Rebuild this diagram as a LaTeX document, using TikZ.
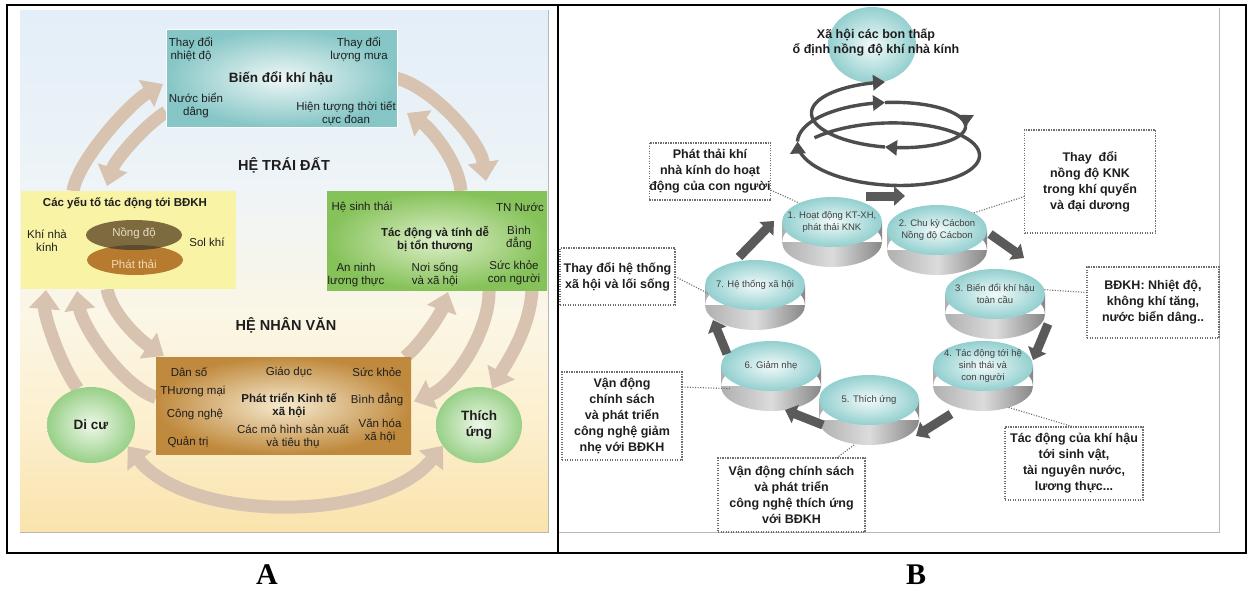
\documentclass[tikz,border=0pt]{standalone}
\usepackage{fontspec}
\setmainfont{Liberation Sans}
\newfontfamily\labelserif{Liberation Serif}
\usetikzlibrary{arrows.meta,calc,shapes.geometric}

\definecolor{bgtop}{HTML}{E3EEF8}
\definecolor{bgupper}{HTML}{EEF4F7}
\definecolor{bgmid}{HTML}{FBF6E6}
\definecolor{bglow}{HTML}{FCEFCD}
\definecolor{bgbot}{HTML}{FAE3AC}
\definecolor{flow}{HTML}{D7C3B0}
\definecolor{tealin}{HTML}{EEF7F6}
\definecolor{tealout}{HTML}{86C6C6}
\definecolor{yellowbox}{HTML}{F9F3A6}
\definecolor{greenin}{HTML}{DCEFC8}
\definecolor{greenout}{HTML}{86C25A}
\definecolor{goldin}{HTML}{F6EACF}
\definecolor{goldout}{HTML}{C08A3E}
\definecolor{leafin}{HTML}{EEF8E8}
\definecolor{leafout}{HTML}{98D088}
\definecolor{olive}{HTML}{7D6B3F}
\definecolor{amber}{HTML}{B77B2F}
\definecolor{overlap}{HTML}{5D4B2C}
\definecolor{oliveText}{HTML}{E6DCC4}
\definecolor{amberText}{HTML}{F3D9B5}
\definecolor{txt}{HTML}{1E1E1E}
\definecolor{discin}{HTML}{F2FAFA}
\definecolor{discout}{HTML}{93CFCF}
\definecolor{sidelight}{HTML}{DCDCDC}
\definecolor{sidemid}{HTML}{B0B0B0}
\definecolor{sidedark}{HTML}{878787}
\definecolor{coil}{HTML}{4D4D4D}
\definecolor{block}{HTML}{5A5A5A}
\definecolor{dots}{HTML}{6E6E6E}
\definecolor{rule}{HTML}{B8B8B8}

% sky-to-ground wash behind the first panel (bottom to top)
\pgfdeclareverticalshading{skyground}{100bp}{
  color(0bp)=(bgbot); color(25bp)=(bgbot); color(35bp)=(bglow);
  color(46bp)=(bgmid); color(58bp)=(bgupper); color(75bp)=(bgtop); color(100bp)=(bgtop)}

% a disc: grey side band plus a teal top face carrying the label
\newcommand\bdisc[4]{%
  \shade[left color=sidemid, right color=sidedark, middle color=sidelight]
    (#2-50,#3) rectangle (#2+50,#3+20) (#2,#3+20) ellipse (50 and 25);
  \node[ellipse, minimum width=100pt, minimum height=50pt,
        inner color=discin, outer color=discout] (#1) at (#2,#3) {};
  \node[disctext] (#1-t) at (#2,#3) {#4};
}

% one stretch of the rising coil, turning angle from #1 to #2 degrees, #3 samples
\newcommand\coilpart[3]{%
  \draw[coilline] plot[domain=#1:#2, samples=#3, variable=\ang]
    ({885+(98-28*((\ang-270)/720))*cos(\ang)},
     {163.5-58.5*((\ang-270)/720)+(40.5-17.5*((\ang-270)/720))*sin(\ang)});
}

\begin{document}
\begin{tikzpicture}[x=1pt, y=-1pt,
  every node/.style={text=txt, inner sep=0pt, outer sep=0pt},
  lbl/.style={font=\fontsize{11.5}{13}\selectfont, align=center},
  lblb/.style={font=\fontsize{11.5}{13}\selectfont\bfseries, align=center},
  boxtitle/.style={font=\fontsize{13.5}{15}\selectfont\bfseries, align=center},
  region/.style={font=\fontsize{14.5}{16}\selectfont\bfseries},
  flowarrow/.style={draw=flow, line width=13pt, -{Triangle[width=30pt,length=19pt]}},
  panelbox/.style={draw=white, line width=0.8pt},
  leafcircle/.style={ellipse, minimum width=88pt, minimum height=76pt,
    inner color=leafin, outer color=leafout,
    font=\fontsize{13.5}{16}\selectfont\bfseries, align=center},
  disctext/.style={font=\fontsize{9.5}{12}\selectfont, align=center, text=txt!85},
  callout/.style={draw=dots, line width=1.3pt, dash pattern=on 1.3pt off 1.2pt,
    align=center, font=\fontsize{12.5}{16}\selectfont\bfseries, fill=white},
  leader/.style={draw=dots, line width=1.1pt, dash pattern=on 1.1pt off 1.5pt},
  blockarrow/.style={draw=block, line width=9pt, -{Triangle[width=19pt,length=11pt]}},
  coilline/.style={draw=coil, line width=3.4pt, line join=round, -{Triangle[width=15pt,length=12pt]}}
]
\useasboundingbox (0,0) rectangle (1249,592);
\fill[white] (0,0) rectangle (1249,592);

% ================= panel A =================
\shade[shading=skyground] (20,10) rectangle (548,532);
\draw[rule, line width=0.8pt] (20,532) -- (548,532) -- (548,10);

% box outlines (named first so that the arrows can refer to them)
\path (281.5,78) node[minimum width=231pt, minimum height=98pt] (topbox) {};
\path (128.5,240) node[minimum width=215pt, minimum height=98pt] (ybox) {};
\path (437,240.5) node[minimum width=220pt, minimum height=99pt] (gbox) {};
\path (283.5,405.5) node[minimum width=255pt, minimum height=97pt] (bbox) {};
\path (91,425) node[ellipse, minimum width=88pt, minimum height=76pt] (dicu) {};
\path (479,425) node[ellipse, minimum width=86pt, minimum height=76pt] (thich) {};

% feedback arrows
\draw[flowarrow] (dicu.110) .. controls (60,365) and (44,315) .. ($(ybox.south west)+(25,1)$);
\draw[flowarrow] ($(ybox.north west)+(52,0)$) .. controls (78,160) and (130,103) .. ($(topbox.west)+(-3,6)$);
\draw[flowarrow] ($(topbox.south west)+(0,-15)$) .. controls (145,125) and (115,160) .. ($(ybox.north west)+(86,-5)$);
\draw[flowarrow] ($(topbox.east)+(-2,0)$) .. controls (430,85) and (480,140) .. ($(gbox.north east)+(-61,-10)$);
\draw[flowarrow] ($(gbox.north west)+(134,0)$) .. controls (458,160) and (430,128) .. ($(topbox.south east)+(10,-14)$);
\draw[flowarrow] ($(bbox.west)+(0,-8)$) .. controls (120,385) and (82,325) .. ($(ybox.south west)+(56,2)$);
\draw[flowarrow] ($(ybox.south west)+(86,0)$) .. controls (112,315) and (140,340) .. ($(bbox.north west)+(8,-1)$);
\draw[flowarrow] ($(bbox.north east)+(-6,0)$) .. controls (420,345) and (440,315) .. ($(gbox.south west)+(121,2)$);
\draw[flowarrow] ($(gbox.south west)+(162,0)$) .. controls (490,330) and (455,385) .. ($(bbox.east)+(3,-4)$);
\draw[flowarrow] ($(gbox.south east)+(-15,0)$) .. controls (530,330) and (505,365) .. (thich.70);
\draw[flowarrow, {Triangle[width=30pt,length=19pt]}-{Triangle[width=30pt,length=19pt]}]
  (dicu.-30) .. controls (190,523) and (380,523) .. (thich.210);

% climate change box
\shade[panelbox, inner color=tealin, outer color=tealout] (topbox.north west) rectangle (topbox.south east);
\node[lbl] (t-temp) at (191,49.5) {Thay đổi\\nhiệt độ};
\node[lbl] (t-rain) at (359,50) {Thay đổi\\lượng mưa};
\node[boxtitle] (t-title) at (281,78) {Biến đổi khí hậu};
\node[lbl] (t-sea) at (196,106) {Nước biển\\dâng};
\node[lbl] (t-extreme) at (346,113) {Hiện tượng thời tiết\\cực đoan};

\node[region] (earth) at (284,165) {HỆ TRÁI ĐẤT};

% drivers box
\fill[yellowbox] (ybox.north west) rectangle (ybox.south east);
\node[lblb] (y-title) at (125,203) {Các yếu tố tác động tới BĐKH};
\node[lbl] (y-ghg) at (47,241) {Khí nhà\\kính};
\node[lbl] (y-aer) at (207,242) {Sol khí};
\fill[amber] (135,260) ellipse (48 and 15);
\fill[olive] (134,235) ellipse (48 and 15);
\begin{scope}
  \clip (134,235) ellipse (48 and 15);
  \fill[overlap] (135,260) ellipse (48 and 15);
\end{scope}
\node[lbl, text=oliveText] (y-conc) at (134,233) {Nồng độ};
\node[lbl, text=amberText] (y-emis) at (134,264) {Phát thải};

% impacts box
\shade[inner color=greenin, outer color=greenout] (gbox.north west) rectangle (gbox.south east);
\node[lbl] (g-eco) at (362,207) {Hệ sinh thái};
\node[lbl] (g-water) at (520,207) {TN Nước};
\node[lblb] (g-title) at (435,239) {Tác động và tính dễ\\bị tổn thương};
\node[lbl] (g-eq) at (519,238) {Bình\\đẳng};
\node[lbl] (g-food) at (356,275) {An ninh\\lương thực};
\node[lbl] (g-home) at (435,274) {Nơi sống\\và xã hội};
\node[lbl] (g-health) at (514,272.5) {Sức khỏe\\con người};

\node[region] (human) at (286,325) {HỆ NHÂN VĂN};

% socio-economic box
\shade[inner color=goldin, outer color=goldout] (bbox.north west) rectangle (bbox.south east);
\node[lbl] (b-pop) at (189,372) {Dân số};
\node[lbl] (b-edu) at (289,372) {Giáo dục};
\node[lbl] (b-health) at (377,372) {Sức khỏe};
\node[lbl] (b-trade) at (193,392) {THương mại};
\node[lblb] (b-title) at (289,405) {Phát triển Kinh tế\\xã hội};
\node[lbl] (b-eq) at (377,400) {Bình đẳng};
\node[lbl] (b-tech) at (195,414) {Công nghệ};
\node[lbl] (b-prod) at (293,436.5) {Các mô hình sản xuất\\và tiêu thụ};
\node[lbl] (b-cult) at (380,430.5) {Văn hóa\\xã hội};
\node[lbl] (b-gov) at (188,442) {Quản trị};

% migration and adaptation
\node[leafcircle] (dicu-c) at (dicu) {Di cư};
\node[leafcircle, minimum width=86pt] (thich-c) at (thich) {Thích\\ứng};

% ================= panel B =================
\draw[rule, line width=0.8pt] (558,532) -- (1219,532) -- (1219,8);

% goal bubble
\node[ellipse, minimum width=88pt, minimum height=76pt, inner color=discin, outer color=discout] (goal) at (872,45) {};
\node[font=\fontsize{12.5}{15}\selectfont\bfseries, align=center] (goal-t) at (876,42.5)
  {Xã hội các bon thấp\\ổ định nồng độ khí nhà kính};

% rising coil, drawn in stretches that each end in an arrowhead
\coilpart{225}{540}{64}
\coilpart{540}{630}{46}
\coilpart{630}{720}{46}
\coilpart{720}{810}{46}
\coilpart{810}{990}{61}

% cycle discs
\bdisc{d1}{832}{222}{1. Hoạt động KT-XH,\\phát thải KNK}
\bdisc{d2}{937}{230}{2. Chu kỳ Cácbon\\Nồng độ Cácbon}
\bdisc{d3}{995}{294}{3. Biến đổi khí hậu\\toàn cầu}
\bdisc{d4}{983}{366}{4. Tác động tới hệ\\sinh thái và\\con người}
\bdisc{d5}{869}{400}{5. Thích ứng}
\bdisc{d6}{771}{366}{6. Giảm nhẹ}
\bdisc{d7}{755}{285}{7. Hệ thống xã hội}

% block arrows between discs
\coordinate (b12s) at (866,196);  \coordinate (b12e) at (905,196);
\coordinate (b23s) at (990,234);  \coordinate (b23e) at (1024,258);
\coordinate (b34s) at (1048,324); \coordinate (b34e) at (1033,360);
\coordinate (b45s) at (951,414);  \coordinate (b45e) at (916,436);
\coordinate (b56s) at (823,425);  \coordinate (b56e) at (785,410);
\coordinate (b67s) at (727,354);  \coordinate (b67e) at (713,320);
\coordinate (b71s) at (739,257);  \coordinate (b71e) at (774,221);
\draw[blockarrow] (b12s) -- (b12e);
\draw[blockarrow] (b23s) -- (b23e);
\draw[blockarrow] (b34s) -- (b34e);
\draw[blockarrow] (b45s) -- (b45e);
\draw[blockarrow] (b56s) -- (b56e);
\draw[blockarrow] (b67s) -- (b67e);
\draw[blockarrow] (b71s) -- (b71e);

% call-outs
\node[callout, minimum width=118pt, minimum height=57pt] (c1) at (710,171.5)
  {Phát thải khí\\nhà kính do hoạt\\động của con người};
\node[callout, minimum width=131pt, minimum height=103pt] (c2) at (1090,181.5)
  {Thay\ \ đổi\\nồng độ KNK\\trong khí quyển\\và đại dương};
\node[callout, minimum width=115pt, minimum height=57pt] (c3) at (617.5,276.5)
  {Thay đổi hệ thống\\xã hội và lối sống};
\node[callout, minimum width=132pt, minimum height=71pt] (c4) at (1153,302.5)
  {BĐKH: Nhiệt độ,\\không khí tăng,\\nước biển dâng..};
\node[callout, minimum width=120pt, minimum height=88pt] (c5) at (622,416)
  {Vận động\\chính sách\\và phát triển\\công nghệ giảm\\nhẹ với BĐKH};
\node[callout, minimum width=147pt, minimum height=74pt] (c6) at (791.5,495)
  {Vận động chính sách\\và phát triển\\công nghệ thích ứng\\với BĐKH};
\node[callout, minimum width=138pt, minimum height=73pt] (c7) at (1074,463.5)
  {Tác động của khí hậu\\tới sinh vật,\\tài nguyên nước,\\lương thực...};

% leaders from call-outs to discs
\draw[leader] ($(c1.south east)+(0,-10)$) -- (d1.150);
\draw[leader] ($(c2.west)+(0,15)$) -- (d2.25);
\draw[leader] (c3.east) -- (d7.190);
\draw[leader] ($(c4.west)+(0,-10)$) -- (d3.5);
\draw[leader] ($(c5.north east)+(0,15)$) -- ($(d6.200)+(0,8)$);
\draw[leader] ($(c6.north)+(45,0)$) -- ($(d5.south)+(-15,20)$);
\draw[leader] ($(d4.-40)+(0,20)$) -- (c7.north);

% ================= frame and captions =================
\draw[line width=2pt] (7,5) rectangle (1246,553);
\draw[line width=1.2pt] (558,5) -- (558,553);
\node[font=\labelserif\fontsize{30}{32}\selectfont\bfseries, text=black] (capA) at (267,575) {A};
\node[font=\labelserif\fontsize{30}{32}\selectfont\bfseries, text=black] (capB) at (916,575) {B};
\end{tikzpicture}
\end{document}
